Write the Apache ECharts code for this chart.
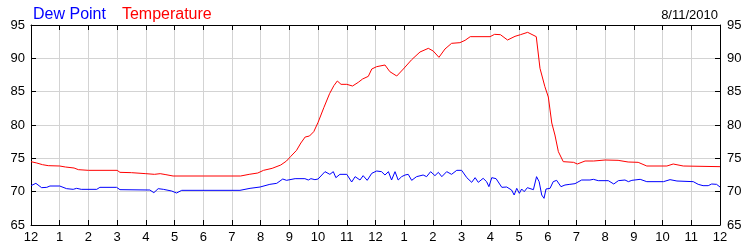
<!DOCTYPE html>
<html>
<head>
<meta charset="utf-8">
<script src="https://cdn.jsdelivr.net/npm/echarts@6/dist/echarts.min.js"></script>
<style>
html,body{margin:0;padding:0;background:#fff;}
#c{width:750px;height:250px;}
</style>
</head>
<body>
<div id="c"></div>
<script>
// Hours since midnight and readings (°F)
var tempHours = [0,0.2,0.4,0.6,1.0,1.2,1.5,1.65,2.0,3.0,3.1,3.5,4.0,4.3,4.5,4.7,4.95,6.0,7.3,7.6,7.9,8.1,8.4,8.7,8.9,9.05,9.25,9.4,9.55,9.7,9.85,10.0,10.2,10.4,10.55,10.67,10.8,11.0,11.2,11.4,11.55,11.75,11.87,12.04,12.33,12.5,12.74,12.97,13.26,13.55,13.84,14.01,14.21,14.42,14.65,14.94,15.12,15.3,15.99,16.15,16.35,16.6,16.86,17.05,17.3,17.6,17.73,17.9,18.02,18.14,18.25,18.37,18.54,18.9,19.03,19.3,19.6,20.0,20.45,20.8,21.15,21.45,22.15,22.37,22.72,24];
var tempValues = [74.5,74.3,74.05,73.9,73.85,73.7,73.55,73.3,73.2,73.2,72.9,72.85,72.7,72.6,72.7,72.55,72.35,72.35,72.35,72.6,72.8,73.2,73.5,74.0,74.6,75.3,76.2,77.3,78.2,78.35,79.0,80.4,82.6,84.7,85.9,86.6,86.1,86.1,85.85,86.4,86.9,87.3,88.4,88.75,89.0,88.0,87.35,88.4,89.8,90.95,91.5,91.1,90.15,91.4,92.25,92.35,92.7,93.25,93.25,93.6,93.55,92.75,93.3,93.55,93.9,93.25,88.5,85.75,84.2,80.3,78.5,76.0,74.5,74.4,74.15,74.6,74.6,74.75,74.7,74.45,74.4,73.85,73.85,74.15,73.85,73.75];
var dewHours = [0,0.17,0.37,0.55,0.66,1.0,1.24,1.47,1.59,1.75,2.29,2.4,2.98,3.1,4.14,4.28,4.43,4.61,4.9,5.07,5.25,7.28,7.63,7.98,8.32,8.56,8.77,8.9,9.2,9.54,9.66,9.75,9.89,10.0,10.24,10.41,10.53,10.62,10.76,11.0,11.17,11.29,11.46,11.57,11.71,11.87,12.04,12.21,12.33,12.45,12.56,12.68,12.79,12.91,13.03,13.14,13.26,13.43,13.66,13.78,13.92,14.07,14.19,14.31,14.48,14.65,14.83,15.0,15.18,15.35,15.47,15.58,15.75,15.87,15.95,16.05,16.2,16.4,16.57,16.74,16.83,16.92,17.01,17.09,17.18,17.29,17.5,17.61,17.7,17.79,17.87,17.94,18.08,18.19,18.31,18.46,18.6,18.77,18.95,19.18,19.47,19.59,19.76,20.11,20.3,20.46,20.69,20.81,20.93,21.22,21.45,22.03,22.26,22.5,23.07,23.24,23.41,23.59,23.71,23.88,24];
var dewValues = [70.9,71.25,70.6,70.65,70.85,70.85,70.45,70.35,70.5,70.35,70.35,70.65,70.65,70.3,70.25,69.85,70.45,70.35,70.1,69.8,70.2,70.2,70.5,70.7,71.1,71.25,71.9,71.7,71.95,71.95,71.75,71.95,71.8,71.9,73.0,72.6,73.0,72.1,72.6,72.6,71.45,72.25,71.75,72.4,71.7,72.75,73.1,73.0,72.5,73.0,71.75,73.0,71.75,72.25,72.5,72.6,71.7,72.25,72.5,72.25,73.0,72.4,72.9,72.25,73.0,72.6,73.2,73.2,72.1,71.4,72.1,71.4,72.0,71.5,70.75,72.1,71.95,70.65,70.7,70.25,69.5,70.5,69.75,70.4,70.0,70.6,70.3,72.25,71.5,69.5,69.0,70.4,70.5,71.5,71.7,70.75,71.0,71.1,71.2,71.75,71.75,71.85,71.65,71.65,71.15,71.65,71.75,71.5,71.7,71.85,71.5,71.5,71.8,71.6,71.5,71.1,70.9,70.9,71.15,71.1,70.7];
var hourLabels = ['12','1','2','3','4','5','6','7','8','9','10','11','12','1','2','3','4','5','6','7','8','9','10','11','12'];
var yMin = 65, yMax = 95, yStep = 5;
var dateText = '8/11/2010';
var seriesNames = ['Dew Point', 'Temperature'];

function pairs(xs, ys){ var o=[]; for(var i=0;i<xs.length;i++) o.push([xs[i], ys[i]]); return o; }

var chart = echarts.init(document.getElementById('c'), null, {renderer:'canvas'});
var font = 'Arial, "Liberation Sans", sans-serif';
var axisLineStyle = {color:'#000', width:1};
var gridLineStyle = {color:'#d3d3d3', width:1};
chart.setOption({
  animation:false,
  backgroundColor:'#fff',
  grid:{left:31, right:30, top:25, bottom:25, containLabel:false},
  legend:{
    left:23, top:2, itemWidth:0, itemHeight:0, itemGap:11, icon:'none',
    selectedMode:false,
    textStyle:{fontFamily:font, fontSize:16},
    data:[
      {name:seriesNames[0], icon:'none', textStyle:{color:'#0000ff'}},
      {name:seriesNames[1], icon:'none', textStyle:{color:'#ff0000'}}
    ]
  },
  title:{text:dateText, right:27, top:4, textStyle:{fontFamily:font, fontSize:13, fontWeight:'normal', color:'#000'}},
  xAxis:[
    {type:'value', position:'bottom', min:0, max:24, interval:1,
     axisLine:{show:true, lineStyle:axisLineStyle},
     axisTick:{show:true, inside:true, length:5, lineStyle:axisLineStyle},
     axisLabel:{show:true, margin:6, color:'#000', fontFamily:font, fontSize:13,
       formatter:function(v){ return hourLabels[Math.round(v)]; }},
     splitLine:{show:true, lineStyle:gridLineStyle}},
    {type:'value', position:'top', min:0, max:24, interval:1,
     axisLine:{show:true, onZero:false, lineStyle:axisLineStyle},
     axisTick:{show:true, inside:true, length:5, lineStyle:axisLineStyle},
     axisLabel:{show:false}, splitLine:{show:false}}
  ],
  yAxis:[
    {type:'value', position:'left', min:yMin, max:yMax, interval:yStep,
     axisLine:{show:true, onZero:false, lineStyle:axisLineStyle},
     axisTick:{show:true, inside:true, length:5, lineStyle:axisLineStyle},
     axisLabel:{show:true, margin:6, color:'#000', fontFamily:font, fontSize:13},
     splitLine:{show:true, lineStyle:gridLineStyle}},
    {type:'value', position:'right', min:yMin, max:yMax, interval:yStep,
     axisLine:{show:true, onZero:false, lineStyle:axisLineStyle},
     axisTick:{show:true, inside:true, length:5, lineStyle:axisLineStyle},
     axisLabel:{show:true, margin:7, color:'#000', fontFamily:font, fontSize:13},
     splitLine:{show:false}}
  ],
  series:[
    {name:seriesNames[0], type:'line', xAxisIndex:0, yAxisIndex:0, showSymbol:false, symbol:'none',
     lineStyle:{color:'#0000ff', width:1}, itemStyle:{color:'#0000ff'}, data:pairs(dewHours, dewValues)},
    {name:seriesNames[1], type:'line', xAxisIndex:0, yAxisIndex:0, showSymbol:false, symbol:'none',
     lineStyle:{color:'#ff0000', width:1}, itemStyle:{color:'#ff0000'}, data:pairs(tempHours, tempValues)}
  ]
});
</script>
</body>
</html>
